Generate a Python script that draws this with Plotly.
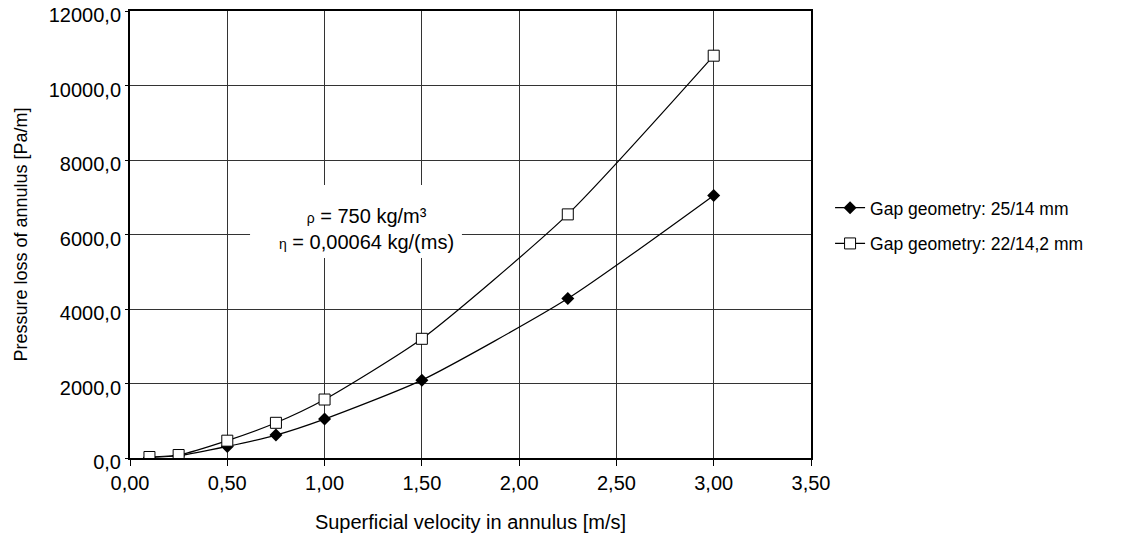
import plotly.graph_objects as go

velocity = [0.1, 0.25, 0.5, 0.75, 1.0, 1.5, 2.25, 3.0]
loss_25_14 = [15, 60, 310, 615, 1045, 2090, 4280, 7050]
loss_22_142 = [27, 80, 465, 945, 1570, 3200, 6540, 10800]
series_names = ["Gap geometry: 25/14 mm", "Gap geometry: 22/14,2 mm"]
x_ticks = [0, 0.5, 1.0, 1.5, 2.0, 2.5, 3.0, 3.5]
y_ticks = [0, 2000, 4000, 6000, 8000, 10000, 12000]

FONT = "Liberation Sans, Arial, sans-serif"
FS = 20

fig = go.Figure()
fig.add_trace(go.Scatter(
    x=velocity, y=loss_25_14, name=series_names[0], mode="lines+markers",
    legendgroup="a",
    line=dict(color="black", width=1.2, shape="spline", smoothing=0.6),
    marker=dict(symbol="diamond", size=10, color="black"),
))
fig.add_trace(go.Scatter(
    x=velocity, y=loss_22_142, name=series_names[1], mode="lines+markers",
    legendgroup="b",
    line=dict(color="black", width=1.2, shape="spline", smoothing=0.6),
    marker=dict(symbol="square", size=11, color="white", line=dict(color="black", width=1)),
))

# white text box hiding the grid behind the fluid property note
fig.add_shape(type="rect", xref="x", yref="y", x0=0.617, x1=1.706, y0=5370, y1=7330,
              fillcolor="white", line=dict(width=0), layer="between")
fig.add_annotation(
    x=1.218, y=6160, xref="x", yref="y",
    text="<span style='font-size:14px'>ρ</span> = 750 kg/m³<br><span style='font-size:14px'>η</span> = 0,00064 kg/(ms)",
    showarrow=False,
    font=dict(family=FONT, size=FS, color="black"), align="center",
)

fig.update_layout(
    width=1121, height=540,
    margin=dict(l=130, r=310, t=11, b=82),
    paper_bgcolor="white", plot_bgcolor="white",
    separators=",.",
    font=dict(family=FONT, size=FS, color="black"),
    showlegend=True,
    legend=dict(x=1.028, y=0.6, xanchor="left", yanchor="top",
                font=dict(family=FONT, size=17.5, color="black"),
                itemwidth=30, tracegroupgap=10, bgcolor="rgba(0,0,0,0)"),
    xaxis=dict(
        range=[0, 3.5], tickvals=x_ticks, tickformat=".2f",
        showgrid=True, gridcolor="#333", gridwidth=1,
        showline=True, linecolor="black", linewidth=2, mirror=True,
        ticks="outside", ticklen=6, tickcolor="black",
        zeroline=False, automargin=False,
        title=dict(text="Superficial velocity in annulus [m/s]", standoff=22,
                   font=dict(family=FONT, size=FS)),
    ),
    yaxis=dict(
        range=[0, 12000], tickvals=y_ticks, tickformat=".1f",
        showgrid=True, gridcolor="#333", gridwidth=1,
        showline=True, linecolor="black", linewidth=2, mirror=True,
        ticks="outside", ticklen=3, tickcolor="black",
        zeroline=False, automargin=False, ticklabelshift=4,
        title=dict(text="Pressure loss of annulus [Pa/m]", standoff=16,
                   font=dict(family=FONT, size=18)),
    ),
)

fig.write_html("out.html")
